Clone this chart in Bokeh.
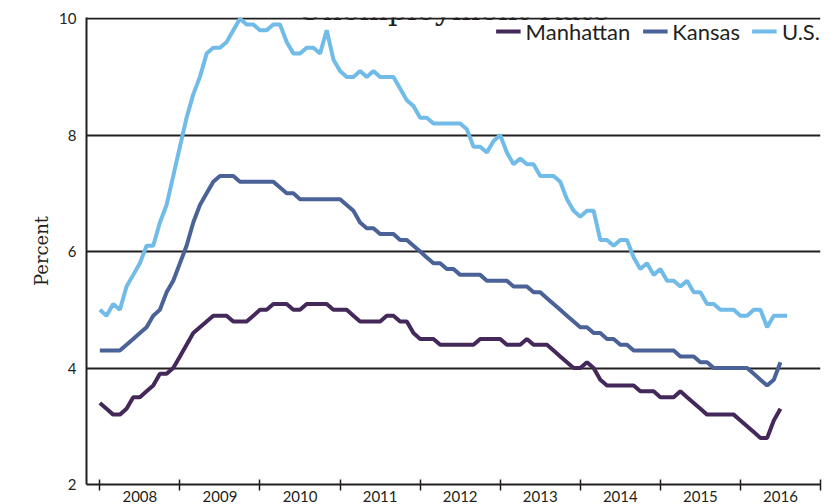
from bokeh.plotting import figure
from bokeh.models import Range1d, FixedTicker, Legend, Label
from bokeh.embed import file_html
from bokeh.resources import INLINE

# ---------------- data (monthly, Jan 2008 onward, percent) ----------------
YEARS = ["2008", "2009", "2010", "2011", "2012", "2013", "2014", "2015", "2016"]

US = [
    5.0, 4.9, 5.1, 5.0, 5.4, 5.6, 5.8, 6.1, 6.1, 6.5, 6.8, 7.3,   # 2008
    7.8, 8.3, 8.7, 9.0, 9.4, 9.5, 9.5, 9.6, 9.8, 10.0, 9.9, 9.9,  # 2009
    9.8, 9.8, 9.9, 9.9, 9.6, 9.4, 9.4, 9.5, 9.5, 9.4, 9.8, 9.3,   # 2010
    9.1, 9.0, 9.0, 9.1, 9.0, 9.1, 9.0, 9.0, 9.0, 8.8, 8.6, 8.5,   # 2011
    8.3, 8.3, 8.2, 8.2, 8.2, 8.2, 8.2, 8.1, 7.8, 7.8, 7.7, 7.9,   # 2012
    8.0, 7.7, 7.5, 7.6, 7.5, 7.5, 7.3, 7.3, 7.3, 7.2, 6.9, 6.7,   # 2013
    6.6, 6.7, 6.7, 6.2, 6.2, 6.1, 6.2, 6.2, 5.9, 5.7, 5.8, 5.6,   # 2014
    5.7, 5.5, 5.5, 5.4, 5.5, 5.3, 5.3, 5.1, 5.1, 5.0, 5.0, 5.0,   # 2015
    4.9, 4.9, 5.0, 5.0, 4.7, 4.9, 4.9, 4.9,                       # 2016
]

KANSAS = [
    4.3, 4.3, 4.3, 4.3, 4.4, 4.5, 4.6, 4.7, 4.9, 5.0, 5.3, 5.5,
    5.8, 6.1, 6.5, 6.8, 7.0, 7.2, 7.3, 7.3, 7.3, 7.2, 7.2, 7.2,
    7.2, 7.2, 7.2, 7.1, 7.0, 7.0, 6.9, 6.9, 6.9, 6.9, 6.9, 6.9,
    6.9, 6.8, 6.7, 6.5, 6.4, 6.4, 6.3, 6.3, 6.3, 6.2, 6.2, 6.1,
    6.0, 5.9, 5.8, 5.8, 5.7, 5.7, 5.6, 5.6, 5.6, 5.6, 5.5, 5.5,
    5.5, 5.5, 5.4, 5.4, 5.4, 5.3, 5.3, 5.2, 5.1, 5.0, 4.9, 4.8,
    4.7, 4.7, 4.6, 4.6, 4.5, 4.5, 4.4, 4.4, 4.3, 4.3, 4.3, 4.3,
    4.3, 4.3, 4.3, 4.2, 4.2, 4.2, 4.1, 4.1, 4.0, 4.0, 4.0, 4.0,
    4.0, 4.0, 3.9, 3.8, 3.7, 3.8, 4.1,
]

MANHATTAN = [
    3.4, 3.3, 3.2, 3.2, 3.3, 3.5, 3.5, 3.6, 3.7, 3.9, 3.9, 4.0,
    4.2, 4.4, 4.6, 4.7, 4.8, 4.9, 4.9, 4.9, 4.8, 4.8, 4.8, 4.9,
    5.0, 5.0, 5.1, 5.1, 5.1, 5.0, 5.0, 5.1, 5.1, 5.1, 5.1, 5.0,
    5.0, 5.0, 4.9, 4.8, 4.8, 4.8, 4.8, 4.9, 4.9, 4.8, 4.8, 4.6,
    4.5, 4.5, 4.5, 4.4, 4.4, 4.4, 4.4, 4.4, 4.4, 4.5, 4.5, 4.5,
    4.5, 4.4, 4.4, 4.4, 4.5, 4.4, 4.4, 4.4, 4.3, 4.2, 4.1, 4.0,
    4.0, 4.1, 4.0, 3.8, 3.7, 3.7, 3.7, 3.7, 3.7, 3.6, 3.6, 3.6,
    3.5, 3.5, 3.5, 3.6, 3.5, 3.4, 3.3, 3.2, 3.2, 3.2, 3.2, 3.2,
    3.1, 3.0, 2.9, 2.8, 2.8, 3.1, 3.3,
]

Y_TICKS = [2, 4, 6, 8, 10]
GRID_TICKS = [4, 6, 8, 10]

# ---------------- styling ----------------
C_MAN = "#44285a"
C_KAN = "#4a6298"
C_US = "#70bbe7"
TXT = "#231f20"
SANS = "Lato"
SERIF = "DejaVu Serif"

n_months = 12 * len(YEARS)
p = figure(width=839, height=504, output_backend="svg", toolbar_location=None,
           x_range=Range1d(-2, n_months), y_range=Range1d(2, 10.02),
           min_border_left=86, min_border_right=19, min_border_top=17,
           min_border_bottom=18)
p.outline_line_color = None
p.background_fill_color = "white"
p.border_fill_color = "white"

x_us = list(range(len(US)))
x_ks = list(range(len(KANSAS)))
x_mh = list(range(len(MANHATTAN)))

r_us = p.line(x_us, US, line_color=C_US, line_width=4)
r_ks = p.line(x_ks, KANSAS, line_color=C_KAN, line_width=4)
r_mh = p.line(x_mh, MANHATTAN, line_color=C_MAN, line_width=4)

# x axis: year labels centred in each year, tick marks at the year boundaries
year_mid = [12 * i + 6 for i in range(len(YEARS))]
year_edge = [12 * i for i in range(len(YEARS) + 1)]
p.xaxis.ticker = FixedTicker(ticks=year_mid, minor_ticks=year_edge)
p.xaxis.major_label_overrides = {m: y for m, y in zip(year_mid, YEARS)}
p.xaxis.major_tick_in = 0
p.xaxis.major_tick_out = 0
p.xaxis.minor_tick_in = 5
p.xaxis.minor_tick_out = 6
p.xaxis.minor_tick_line_width = 1.5
p.xaxis.minor_tick_line_color = TXT
p.xaxis.axis_line_width = 2
p.xaxis.axis_line_color = TXT
p.xaxis.major_label_standoff = 0
p.xaxis.major_label_text_font = SANS
p.xaxis.major_label_text_font_size = "15px"
p.xaxis.major_label_text_color = TXT

p.yaxis.ticker = FixedTicker(ticks=Y_TICKS)
p.yaxis.major_tick_in = 0
p.yaxis.major_tick_out = 0
p.yaxis.minor_tick_line_color = None
p.yaxis.axis_line_width = 2
p.yaxis.axis_line_color = TXT
p.yaxis.major_label_text_font = SANS
p.yaxis.major_label_text_font_size = "15px"
p.yaxis.major_label_text_color = TXT
p.yaxis.major_label_standoff = 10
p.yaxis.axis_label = "Percent"
p.yaxis.axis_label_text_font = SERIF
p.yaxis.axis_label_text_font_size = "18px"
p.yaxis.axis_label_text_font_style = "normal"
p.yaxis.axis_label_text_color = TXT
p.yaxis.axis_label_standoff = 4

p.xgrid.visible = False
p.ygrid.ticker = FixedTicker(ticks=GRID_TICKS)
p.ygrid.grid_line_color = TXT
p.ygrid.grid_line_width = 2

# title (cropped at the top in the original)
p.add_layout(Label(x=n_months / 2 - 1, y=10.15, text="Unemployment Rate",
                   text_align="center", text_baseline="alphabetic",
                   text_font=SERIF, text_font_size="30px", text_color=TXT))

legend = Legend(items=[("Manhattan", [r_mh]), ("Kansas", [r_ks]), ("U.S.", [r_us])],
                location="top_right", orientation="horizontal",
                label_text_font=SANS, label_text_font_size="22px",
                label_text_color=TXT, glyph_width=25, glyph_height=28,
                label_height=28, label_standoff=5, spacing=12, padding=5,
                margin=0, border_line_color=None, background_fill_alpha=0)
p.add_layout(legend)

open("out.html", "w").write(file_html(p, INLINE))
